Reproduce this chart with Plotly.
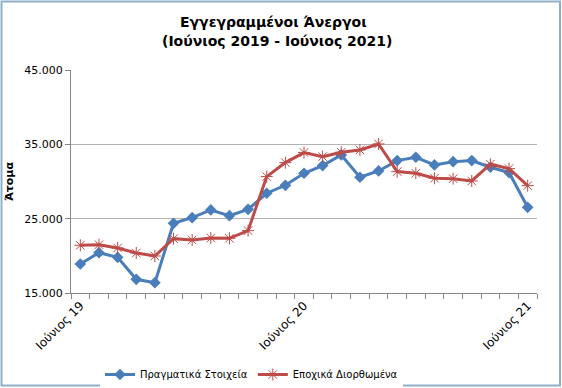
import plotly.graph_objects as go

months = ["Ιούνιος 19", "Ιούλιος 19", "Αύγουστος 19", "Σεπτέμβριος 19", "Οκτώβριος 19",
          "Νοέμβριος 19", "Δεκέμβριος 19", "Ιανουάριος 20", "Φεβρουάριος 20", "Μάρτιος 20",
          "Απρίλιος 20", "Μάιος 20", "Ιούνιος 20", "Ιούλιος 20", "Αύγουστος 20",
          "Σεπτέμβριος 20", "Οκτώβριος 20", "Νοέμβριος 20", "Δεκέμβριος 20", "Ιανουάριος 21",
          "Φεβρουάριος 21", "Μάρτιος 21", "Απρίλιος 21", "Μάιος 21", "Ιούνιος 21"]

actual = [18900, 20420, 19800, 16840, 16390, 24380, 25140, 26170, 25400, 26260,
          28420, 29490, 31110, 32140, 33570, 30570, 31420, 32810, 33260, 32230,
          32670, 32810, 31920, 31200, 26530]

seasonal = [21420, 21500, 21060, 20380, 19980, 22310, 22130, 22400, 22360, 23390,
            30660, 32540, 33890, 33350, 33940, 34250, 35050, 31330, 31110, 30440,
            30380, 30070, 32320, 31730, 29440]

shown_ticks = ["Ιούνιος 19", "Ιούνιος 20", "Ιούνιος 21"]
tick_text = [m if m in shown_ticks else "" for m in months]

title_lines = ["Εγγεγραμμένοι Άνεργοι", "(Ιούνιος 2019 - Ιούνιος 2021)"]

blue = "#4A7EBB"
red = "#BE4B48"
font = "DejaVu Sans"

fig = go.Figure()
fig.add_trace(go.Scatter(x=months, y=actual, mode="lines+markers", name="Πραγματικά Στοιχεία",
                         line=dict(color=blue, width=3),
                         marker=dict(symbol="diamond", size=9, color=blue)))
fig.add_trace(go.Scatter(x=months, y=seasonal, mode="lines+markers", name="Εποχικά Διορθωμένα",
                         line=dict(color=red, width=3),
                         marker=dict(symbol="asterisk-open", size=10, color=red,
                                     line=dict(color=red, width=1))))

L, R, T, B = 71, 25, 70, 95
W, H = 562, 388
pw, ph = W - L - R, H - T - B

def px_x(p):
    return (p - L) / pw

def px_y(p):
    return (H - B - p) / ph

fig.add_shape(type="rect", xref="paper", yref="paper", layer="above",
              x0=px_x(1.5), x1=px_x(560), y0=px_y(385.5), y1=px_y(1.5),
              line=dict(color="#8FAFC8", width=2), fillcolor="rgba(0,0,0,0)")

for txt, cx, cy in [(title_lines[0], 273.5, 22), (title_lines[1], 277, 41)]:
    fig.add_annotation(text="<b>" + txt + "</b>", xref="paper", yref="paper",
                       x=px_x(cx), y=px_y(cy), xanchor="center", yanchor="middle",
                       showarrow=False, font=dict(family=font, size=14, color="black"))

fig.update_layout(
    width=W, height=H,
    margin=dict(l=L, r=R, t=T, b=B, autoexpand=False),
    paper_bgcolor="white", plot_bgcolor="white",
    separators=",.",
    font=dict(family=font, size=11, color="black"),
    showlegend=True,
    legend=dict(orientation="h", x=px_x(100), xanchor="left", y=px_y(360), yanchor="top",
                font=dict(family=font, size=10), tracegroupgap=0),
    xaxis=dict(type="category", tickvals=months, ticktext=tick_text, tickangle=-45,
               tickson="boundaries", ticks="outside", ticklen=5, tickcolor="#868686",
               showline=True, linecolor="#868686", linewidth=1, showgrid=False,
               range=[-0.5, 24.5], tickfont=dict(family=font, size=12), automargin=False),
    yaxis=dict(range=[15000, 45000], tick0=15000, dtick=10000, tickformat=",.0f",
               showgrid=True, gridcolor="#B3B3B3", gridwidth=1,
               showline=True, linecolor="#868686", linewidth=1,
               ticks="outside", ticklen=5, tickcolor="#868686", zeroline=False,
               title=dict(text="<b>Άτομα</b>", font=dict(family=font, size=11), standoff=8),
               tickfont=dict(family=font, size=11), automargin=False),
)

fig.write_html("out.html", config={"displayModeBar": False},
               post_script="document.body.style.margin='0px';")
